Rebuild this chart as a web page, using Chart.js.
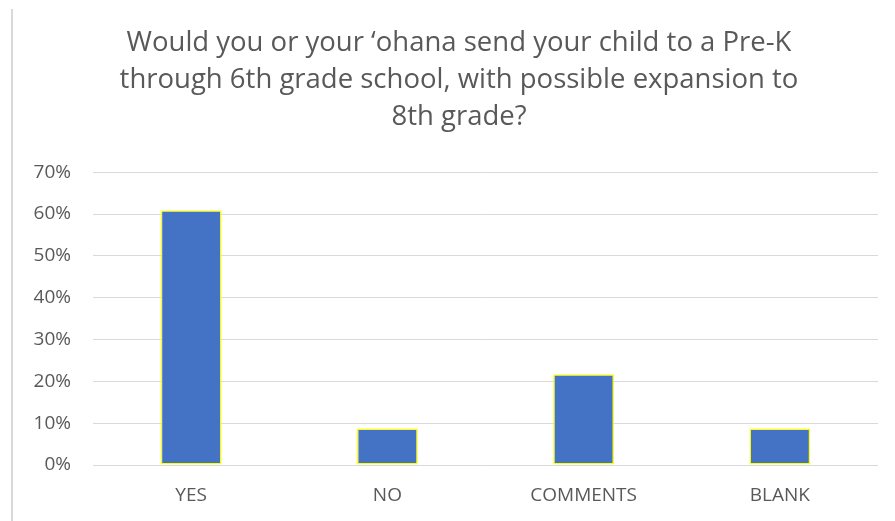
<!DOCTYPE html>
<html>
<head>
<meta charset="utf-8">
<script src="https://cdn.jsdelivr.net/npm/chart.js@4"></script>
<style>
  html, body { margin: 0; padding: 0; background: #fff; }
  .wrap { position: relative; width: 895px; height: 521px; }
  .edge { position: absolute; left: 11px; top: 9px; bottom: 0; border-left: 2px solid #d9d9d9; }
  canvas { position: absolute; left: 0; top: 0; }
</style>
</head>
<body>
<div class="wrap">
  <div class="edge"></div>
  <canvas id="surveyChart" width="895" height="521"></canvas>
</div>
<script>
const titleLines = [
    'Would you or your \u2018ohana send your child to a Pre-K',
    'through 6th grade school, with possible expansion to',
    '8th grade?'
];
const categories = ['YES', 'NO', 'COMMENTS', 'BLANK'];
const shares = [0.609, 0.087, 0.217, 0.087];
const yMax = 0.7;
const yStep = 0.1;

const fontFamily = "'Open Sans', sans-serif";
const textGrey = '#595959';

// the original title sits a little right of the canvas centre
const nudgeTitle = {
    id: 'nudgeTitle',
    afterLayout(chart) {
        if (chart.titleBlock) chart.titleBlock.left += 28;
    }
};

function createBarChart(canvasId) {
    const canvas = document.getElementById(canvasId);

    return new Chart(canvas, {
        type: 'bar',
        data: {
            labels: categories,
            datasets: [{
                data: shares,
                backgroundColor: '#4472c4',
                borderColor: '#ffff00',
                borderWidth: 1.5,
                borderSkipped: false,
                categoryPercentage: 1,
                barPercentage: 0.31
            }]
        },
        options: {
            responsive: false,
            animation: false,
            layout: { padding: { left: 12, right: 17, top: 24, bottom: 14 } },
            scales: {
                x: {
                    afterFit: (scale) => { scale.height = 42; },
                    grid: { display: false, drawTicks: false },
                    border: { display: false },
                    ticks: { color: textGrey, font: { family: fontFamily, size: 19 }, padding: 19 }
                },
                y: {
                    min: 0,
                    max: yMax,
                    afterFit: (scale) => { scale.width = 81; },
                    grid: { color: '#d9d9d9', lineWidth: 1, drawTicks: false },
                    border: { display: false },
                    ticks: {
                        stepSize: yStep,
                        padding: 22,
                        color: textGrey,
                        font: { family: fontFamily, size: 19 },
                        callback: (v) => Math.round(v * 100) + '%'
                    }
                }
            },
            plugins: {
                legend: { display: false },
                tooltip: { enabled: false },
                title: {
                    display: true,
                    text: titleLines,
                    color: textGrey,
                    font: { family: fontFamily, size: 27.5, weight: 'normal', lineHeight: 1.36 },
                    padding: { top: 0, bottom: 36 }
                }
            }
        },
        plugins: [nudgeTitle]
    });
}

createBarChart('surveyChart');
</script>
</body>
</html>
